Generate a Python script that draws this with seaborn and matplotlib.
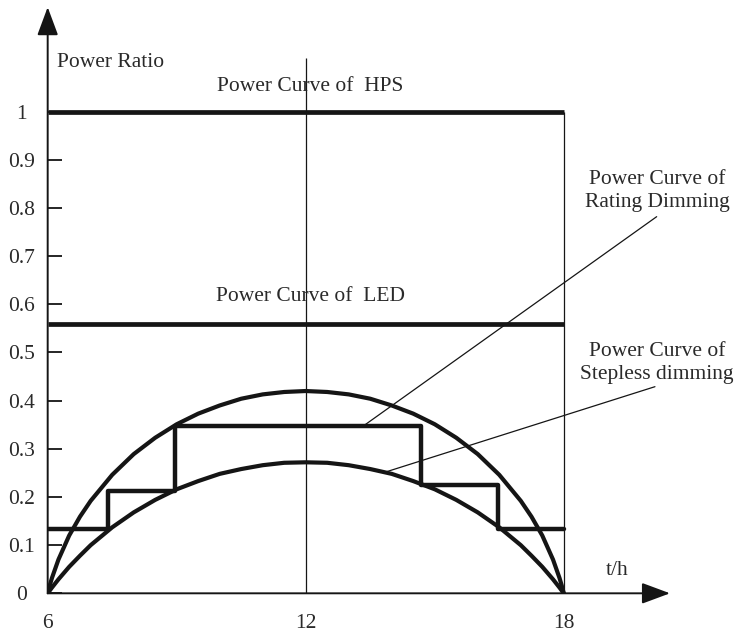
import matplotlib
matplotlib.use("Agg")
import matplotlib.pyplot as plt
import numpy as np
import pandas as pd
import seaborn as sns

# ---------------------------------------------------------------------
# Data (hours vs power ratio)
# ---------------------------------------------------------------------
hours = [6, 6.05, 6.1, 6.25, 6.5, 6.75, 7, 7.5, 8, 8.5, 9, 9.5, 10, 10.5,
         11, 11.5, 12, 12.5, 13, 13.5, 14, 14.5, 15, 15.5, 16, 16.5, 17,
         17.25, 17.5, 17.75, 17.9, 17.95, 18]
# outer arc (upper dimming bound)
outer_ratio = [0, 0.017, 0.032, 0.070, 0.120, 0.159, 0.192, 0.246, 0.289,
               0.323, 0.351, 0.373, 0.390, 0.404, 0.413, 0.418, 0.420,
               0.418, 0.413, 0.404, 0.390, 0.373, 0.351, 0.323, 0.289,
               0.246, 0.192, 0.159, 0.120, 0.070, 0.032, 0.017, 0]
# inner arc: stepless dimming
stepless_ratio = [0, 0.006, 0.012, 0.029, 0.055, 0.078, 0.100, 0.137, 0.168,
                  0.194, 0.216, 0.233, 0.248, 0.258, 0.266, 0.271, 0.272,
                  0.271, 0.266, 0.258, 0.248, 0.233, 0.216, 0.194, 0.168,
                  0.137, 0.100, 0.078, 0.055, 0.029, 0.012, 0.006, 0]

# rating (stepped) dimming
step_hours = [6, 7.41, 8.96, 14.67, 16.48, 18]
step_ratio = [0.133, 0.213, 0.348, 0.225, 0.133, 0.133]

hps_ratio = 1.0
led_ratio = 0.56
t_start, t_mid, t_end = 6, 12, 18

y_ticks = [0, 0.1, 0.2, 0.3, 0.4, 0.5, 0.6, 0.7, 0.8, 0.9, 1.0]
y_tick_labels = ["0", "0.1", "0.2", "0.3", "0.4", "0.5", "0.6", "0.7",
                 "0.8", "0.9", "1"]
x_ticks = [6, 12, 18]
x_tick_labels = ["6", "12", "18"]

curves = pd.DataFrame({"t": hours, "outer": outer_ratio,
                       "stepless": stepless_ratio})
steps = pd.DataFrame({"t": step_hours, "ratio": step_ratio})

# ---------------------------------------------------------------------
# Figure
# ---------------------------------------------------------------------
sns.set_style("white")
plt.rcParams["font.family"] = ["Liberation Serif", "DejaVu Serif"]
plt.rcParams["font.size"] = 15.5

INK = "#151515"
TXT = "#2a2a2a"

fig = plt.figure(figsize=(7.37, 6.33), dpi=100)
ax = fig.add_axes([0.0647, 0.0627, 0.8444, 0.926])
ax.set_xlim(6, 20.47)
ax.set_ylim(0, 1.217)

for s in ax.spines.values():
    s.set_visible(False)

# thin reference verticals
ax.vlines(t_mid, 0, 1.111, color=INK, lw=0.9)
ax.vlines(t_end, 0, hps_ratio, color=INK, lw=0.9)

# flat curves
ax.hlines([hps_ratio, led_ratio], t_start, t_end, color=INK, lw=3.4)

# arcs and stepped curve
sns.lineplot(data=curves, x="t", y="outer", ax=ax, color=INK, lw=3.0,
             estimator=None, sort=False)
sns.lineplot(data=curves, x="t", y="stepless", ax=ax, color=INK, lw=3.0,
             estimator=None, sort=False)
sns.lineplot(data=steps, x="t", y="ratio", ax=ax, color=INK, lw=3.2,
             estimator=None, drawstyle="steps-post")

# axes with arrow heads
arrow = dict(arrowstyle="-|>,head_length=1.75,head_width=0.65",
             color=INK, lw=1.4, shrinkA=0, shrinkB=0, mutation_scale=10)
ax.annotate("", xy=(1, 0), xytext=(0, 0), xycoords="axes fraction",
            textcoords="axes fraction", arrowprops=arrow)
ax.annotate("", xy=(0, 1), xytext=(0, 0), xycoords="axes fraction",
            textcoords="axes fraction", arrowprops=arrow)

# ticks
ax.set_yticks(y_ticks)
ax.set_yticklabels(y_tick_labels, color=TXT)
for lab in ax.get_yticklabels():
    lab.set_ha("center")
ax.tick_params(axis="y", direction="in", length=10, width=1.3,
               color=INK, pad=19, left=True)
ax.set_xticks(x_ticks)
ax.set_xticklabels(x_tick_labels, color=TXT)
ax.tick_params(axis="x", length=0, pad=15)
ax.set_xlabel("")
ax.set_ylabel("")

# labels
ax.text(6.22, 1.102, "Power Ratio", ha="left", va="center", color=TXT)
ax.text(19.25, 0.048, "t/h", ha="center", va="center", color=TXT)
ax.text(12.1, 1.053, "Power Curve of  HPS", ha="center", va="center", color=TXT)
ax.text(12.1, 0.617, "Power Curve of  LED", ha="center", va="center", color=TXT)
ax.text(20.17, 0.835, "Power Curve of\nRating Dimming", ha="center",
        va="center", multialignment="center", color=TXT, linespacing=1.25)
ax.text(20.17, 0.478, "Power Curve of\nStepless dimming", ha="center",
        va="center", multialignment="center", color=TXT, linespacing=1.25)

# leader lines
ax.plot([20.16, 13.38], [0.782, 0.35], color=INK, lw=0.9)
ax.plot([20.12, 13.88], [0.429, 0.2525], color=INK, lw=0.9)

fig.savefig("out.png", dpi=100)
